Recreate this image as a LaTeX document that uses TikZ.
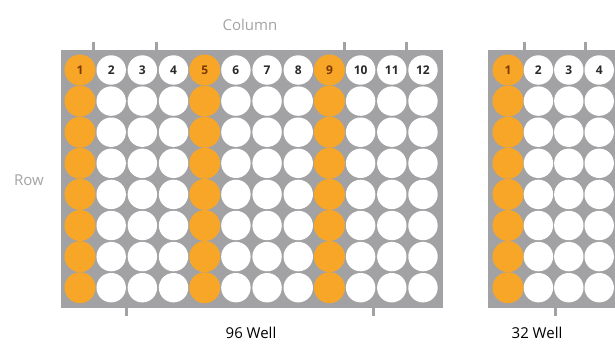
\documentclass[tikz,border=0pt]{standalone}
\usepackage{fontspec}
\setmainfont{Open Sans}
\definecolor{plategray}{HTML}{A2A2A4}
\definecolor{wellorange}{HTML}{F8A627}
\definecolor{labelgray}{HTML}{A3A3A3}
\definecolor{numdark}{HTML}{2A2A2A}
\definecolor{numorange}{HTML}{7A3A00}
\tikzset{
  plate/.style={fill=plategray, draw=none},
  plateick/.style={fill=plategray, draw=none, minimum width=3pt, minimum height=8pt, inner sep=0pt, rectangle},
  wellw/.style={circle, fill=white, draw=none, minimum size=29.4pt, inner sep=0pt,
     font=\fontsize{12}{12}\selectfont\bfseries, text=numdark},
  wello/.style={circle, fill=wellorange, draw=none, minimum size=31pt, inner sep=0pt,
     font=\fontsize{12}{12}\selectfont\bfseries, text=numorange},
  axislabel/.style={font=\fontsize{15}{15}\selectfont, text=labelgray},
  titlelabel/.style={font=\fontsize{15}{15}\selectfont, text=black}
}
\begin{document}
\begin{tikzpicture}[x=1pt,y=-1pt]
\useasboundingbox (0,0) rectangle (615,343);
\clip (0,0) rectangle (615,343);
% ---- 96 well plate ----
\node[plate, rectangle, minimum width=382pt, minimum height=258pt, inner sep=0pt] (plateA) at (252,179) {};
\foreach \tx [count=\k] in {93,156,344,406} {
  \node[plateick, anchor=south] (tA\k) at (\tx,50) {};
}
\foreach \tx [count=\k] in {126,373} {
  \node[plateick, anchor=north] (bA\k) at (\tx,308) {};
}
\foreach \i in {1,...,12} {
  \foreach \j in {1,...,8} {
    \pgfmathsetmacro{\cx}{80+31.18*(\i-1)}
    \pgfmathsetmacro{\cy}{70+31.1*(\j-1)}
    \pgfmathtruncatemacro{\isor}{(\i==1)||(\i==5)||(\i==9)}
    \ifnum\isor=1
      \ifnum\j=1
        \node[wello] (A-\i-\j) at (\cx,\cy) {\i};
      \else
        \node[wello] (A-\i-\j) at (\cx,\cy) {};
      \fi
    \else
      \ifnum\j=1
        \node[wellw] (A-\i-\j) at (\cx,\cy) {\i};
      \else
        \node[wellw] (A-\i-\j) at (\cx,\cy) {};
      \fi
    \fi
  }
}
% ---- 32 well plate ----
\node[plate, rectangle, minimum width=135pt, minimum height=258pt, inner sep=0pt, anchor=north west] (plateB) at (488,50) {};
\foreach \tx [count=\k] in {524,585} {
  \node[plateick, anchor=south] (tB\k) at (\tx,50) {};
}
\node[plateick, anchor=north] (bB1) at (555,308) {};
\foreach \i in {1,...,4} {
  \foreach \j in {1,...,8} {
    \pgfmathsetmacro{\cx}{508+30.4*(\i-1)}
    \pgfmathsetmacro{\cy}{70+31.1*(\j-1)}
    \ifnum\i=1
      \ifnum\j=1
        \node[wello] (B-\i-\j) at (\cx,\cy) {\i};
      \else
        \node[wello] (B-\i-\j) at (\cx,\cy) {};
      \fi
    \else
      \ifnum\j=1
        \node[wellw] (B-\i-\j) at (\cx,\cy) {\i};
      \else
        \node[wellw] (B-\i-\j) at (\cx,\cy) {};
      \fi
    \fi
  }
}
% ---- labels ----
\node[axislabel] (collabel) at (250,25) {Column};
\node[axislabel] (rowlabel) at (29,180) {Row};
\node[titlelabel] (title96) at (251,333) {96 Well};
\node[titlelabel] (title32) at (537,333) {32 Well};
\end{tikzpicture}
\end{document}
